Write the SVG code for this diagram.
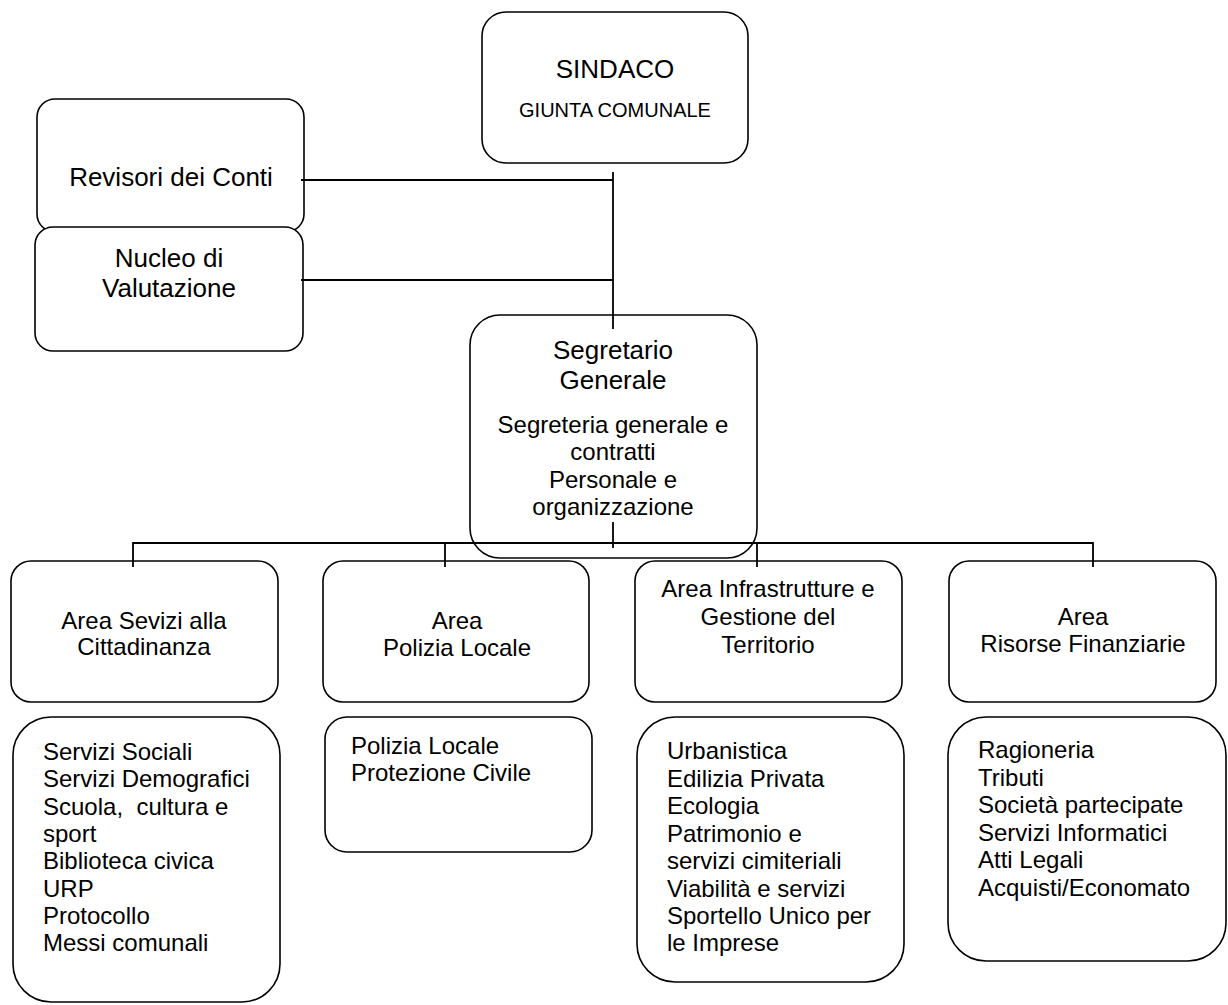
<svg xmlns="http://www.w3.org/2000/svg" width="1228" height="1005" viewBox="0 0 1228 1005">
<style>
.box{fill:#fff;stroke:#000;stroke-width:1.6}
.ln{fill:none;stroke:#000;stroke-width:1.8}
text{font-family:"Liberation Sans",Arial,sans-serif;fill:#000}
.c{text-anchor:middle}
.f26{font-size:26px}
.f24{font-size:24px}
.f20{font-size:20px}
.pre{white-space:pre}
</style>
<rect width="1228" height="1005" fill="#fff"/>
<g id="sindaco">
<rect class="box" x="482" y="12" width="266" height="151" rx="24"/>
<text class="c f26" x="615" y="78">SINDACO</text>
<text class="c f20" x="615" y="117">GIUNTA COMUNALE</text>
</g>
<g id="revisori">
<rect class="box" x="37" y="99" width="267" height="133" rx="18"/>
<text class="c f26" x="171" y="186">Revisori dei Conti</text>
</g>
<g id="nucleo">
<rect class="box" x="35" y="227" width="268" height="124" rx="18"/>
<text class="c f26" x="169" y="267">Nucleo di</text>
<text class="c f26" x="169" y="297">Valutazione</text>
</g>
<g id="segretario">
<rect class="box" x="470" y="315" width="287" height="243" rx="30"/>
<text class="c f26" x="613" y="359">Segretario</text>
<text class="c f26" x="613" y="389">Generale</text>
<text class="c f24" x="613" y="433">Segreteria generale e</text>
<text class="c f24" x="613" y="460">contratti</text>
<text class="c f24" x="613" y="488">Personale e</text>
<text class="c f24" x="613" y="515">organizzazione</text>
</g>
<g id="area1">
<rect class="box" x="11" y="561" width="267" height="141" rx="20"/>
<text class="c f24" x="144" y="629">Area Sevizi alla</text>
<text class="c f24" x="144" y="655">Cittadinanza</text>
</g>
<g id="area2">
<rect class="box" x="323" y="561" width="266" height="141" rx="20"/>
<text class="c f24" x="457" y="629">Area</text>
<text class="c f24" x="457" y="656">Polizia Locale</text>
</g>
<g id="area3">
<rect class="box" x="635" y="561" width="267" height="141" rx="20"/>
<text class="c f24" x="768" y="597">Area Infrastrutture e</text>
<text class="c f24" x="768" y="625">Gestione del</text>
<text class="c f24" x="768" y="653">Territorio</text>
</g>
<g id="area4">
<rect class="box" x="949" y="561" width="267" height="141" rx="20"/>
<text class="c f24" x="1083" y="625">Area</text>
<text class="c f24" x="1083" y="652">Risorse Finanziarie</text>
</g>
<g id="list1">
<rect class="box" x="13" y="717" width="267" height="285" rx="38"/>
<text class="f24" x="43" y="760">Servizi Sociali</text>
<text class="f24" x="43" y="787">Servizi Demografici</text>
<text class="f24 pre" x="43" y="815">Scuola,  cultura e</text>
<text class="f24" x="43" y="842">sport</text>
<text class="f24" x="43" y="869">Biblioteca civica</text>
<text class="f24" x="43" y="897">URP</text>
<text class="f24" x="43" y="924">Protocollo</text>
<text class="f24" x="43" y="951">Messi comunali</text>
</g>
<g id="list2">
<rect class="box" x="325" y="717" width="267" height="135" rx="22"/>
<text class="f24" x="351" y="754">Polizia Locale</text>
<text class="f24" x="351" y="781">Protezione Civile</text>
</g>
<g id="list3">
<rect class="box" x="637" y="717" width="267" height="265" rx="38"/>
<text class="f24" x="667" y="759">Urbanistica</text>
<text class="f24" x="667" y="787">Edilizia Privata</text>
<text class="f24" x="667" y="814">Ecologia</text>
<text class="f24" x="667" y="842">Patrimonio e</text>
<text class="f24" x="667" y="869">servizi cimiteriali</text>
<text class="f24" x="667" y="897">Viabilità e servizi</text>
<text class="f24" x="667" y="924">Sportello Unico per</text>
<text class="f24" x="667" y="951">le Imprese</text>
</g>
<g id="list4">
<rect class="box" x="948" y="717" width="278" height="244" rx="38"/>
<text class="f24" x="978" y="758">Ragioneria</text>
<text class="f24" x="978" y="786">Tributi</text>
<text class="f24" x="978" y="813">Società partecipate</text>
<text class="f24" x="978" y="841">Servizi Informatici</text>
<text class="f24" x="978" y="868">Atti Legali</text>
<text class="f24" x="978" y="896">Acquisti/Economato</text>
</g>
<g id="connectors">
<path class="ln" d="M613 172V329"/>
<path class="ln" d="M301 180H613"/>
<path class="ln" d="M301 280H613"/>
<path class="ln" d="M613 522V548"/>
<path class="ln" d="M133 567V543H1093V567"/>
<path class="ln" d="M445 543V567"/>
<path class="ln" d="M757 543V567"/>
</g>
</svg>
